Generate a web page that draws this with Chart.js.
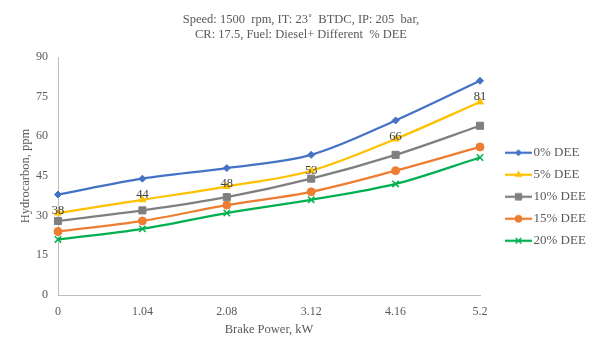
<!DOCTYPE html>
<html><head><meta charset="utf-8">
<script src="https://cdn.jsdelivr.net/npm/chart.js@4.4.1/dist/chart.umd.min.js"></script>
<style>html,body{margin:0;padding:0;background:#fff}#wrap{width:602px;height:352px}</style>
</head><body><div id="wrap"><canvas id="c" width="602" height="352"></canvas></div>
<script>
// ---- data ----
const categories = ['0', '1.04', '2.08', '3.12', '4.16', '5.2'];
const seriesNames = ['0% DEE', '5% DEE', '10% DEE', '15% DEE', '20% DEE'];
const dee0 = [38, 44, 48, 53, 66, 81];
const dee5 = [31, 36, 41, 47, 59, 73];
const dee10 = [28, 32, 37, 44, 53, 64];
const dee15 = [24, 28, 34, 39, 47, 56];
const dee20 = [21, 25, 31, 36, 42, 52];
const yMin = 0, yMax = 90, yStep = 15;
const titleLines = ['Speed: 1500  rpm, IT: 23\u02da  BTDC, IP: 205  bar,', 'CR: 17.5, Fuel: Diesel+ Different  % DEE'];
const xTitle = 'Brake Power, kW';
const yTitle = 'Hydrocarbon, ppm';

// ---- styles ----
const FONT = "'Liberation Serif', 'Times New Roman', serif";
const colors = ['#4472C4', '#FFC000', '#7F7F7F', '#ED7D31', '#00B050'];
const pStyles = ['rectRot', 'triangle', 'rect', 'circle', 'crossRot'];
const pRadius = [3.5, 4, 5, 4, 4.5];
const pBorder = [1, 1, 1, 1, 1.5];
const legendRadius = [3, 3.5, 4.5, 3.5, 4];
const allSeries = [dee0, dee5, dee10, dee15, dee20];

function makeLegendIcon(i) {
  const W = 48, H = 12;
  const c = document.createElement('canvas'); c.width = W; c.height = H;
  const g = c.getContext('2d');
  g.strokeStyle = colors[i]; g.lineWidth = 2.25;
  g.beginPath(); g.moveTo(21, H / 2); g.lineTo(48, H / 2); g.stroke();
  g.fillStyle = colors[i]; g.strokeStyle = colors[i]; g.lineWidth = pBorder[i];
  Chart.helpers.drawPoint(g, {pointStyle: pStyles[i], radius: legendRadius[i], borderWidth: pBorder[i], rotation: 0}, 34.5, H / 2);
  return c;
}

Chart.defaults.font.family = FONT;
Chart.defaults.font.size = 12;
Chart.defaults.color = '#595959';

const datasets = allSeries.map((d, i) => ({
  label: seriesNames[i],
  data: d,
  borderColor: colors[i],
  backgroundColor: colors[i],
  borderWidth: 2.25,
  pointStyle: pStyles[i],
  pointRadius: pRadius[i],
  pointHoverRadius: pRadius[i],
  pointBorderWidth: pBorder[i],
  pointBackgroundColor: colors[i],
  pointBorderColor: colors[i],
  tension: 0.33,
  fill: false
}));

const valueLabels = {
  id: 'valueLabels',
  afterDatasetsDraw(chart) {
    const meta = chart.getDatasetMeta(0);
    const ctx = chart.ctx;
    ctx.save();
    ctx.font = '12.5px ' + FONT;
    ctx.fillStyle = '#404040';
    ctx.textAlign = 'center';
    ctx.textBaseline = 'middle';
    meta.data.forEach((el, j) => {
      ctx.fillText(String(dee0[j]), el.x, el.y + 16);
    });
    ctx.restore();
  }
};

const legendWidthFix = {
  id: 'legendWidthFix',
  beforeLayout(chart) {
    const lg = chart.legend;
    if (lg && !lg._wfix) {
      const orig = lg.fit.bind(lg);
      lg.fit = function () { orig(); this.width = 122; };
      lg._wfix = true;
    }
  }
};

new Chart(document.getElementById('c'), {
  type: 'line',
  data: {labels: categories, datasets},
  plugins: [valueLabels, legendWidthFix],
  options: {
    responsive: false,
    devicePixelRatio: 1,
    animation: false,
    layout: {padding: {left: 0, right: 0, top: 0, bottom: 0}},
    plugins: {
      tooltip: {enabled: false},
      title: {
        display: true,
        text: titleLines,
        color: '#595959',
        font: {family: FONT, size: 12.5, weight: 'normal', lineHeight: 1.2},
        padding: {top: 12.5, bottom: 14.5}
      },
      legend: {
        position: 'right',
        align: 'start',
        fullSize: false,
        title: {display: true, text: '', padding: {top: 65.8, bottom: 0}, font: {size: 12, lineHeight: 1.2}},
        labels: {
          usePointStyle: true,
          pointStyleWidth: 38,
          padding: 9,
          color: '#595959',
          font: {family: FONT, size: 13},
          generateLabels(chart) {
            return chart.data.datasets.map((ds, i) => ({
              text: ds.label,
              pointStyle: makeLegendIcon(i),
              fillStyle: colors[i],
              strokeStyle: colors[i],
              lineWidth: 0,
              hidden: false,
              datasetIndex: i
            }));
          }
        }
      }
    },
    scales: {
      x: {
        type: 'category',
        offset: false,
        grid: {display: false, drawTicks: false},
        border: {display: true, color: '#BFBFBF', width: 1},
        ticks: {color: '#595959', padding: 10, font: {family: FONT, size: 12}, maxRotation: 0},
        title: {display: true, text: xTitle, color: '#595959', font: {family: FONT, size: 12.5, lineHeight: 1.2}, padding: {top: 0, bottom: 15}},
        afterFit(scale) { scale.height = 57; }
      },
      y: {
        min: yMin, max: yMax,
        grid: {display: false, drawTicks: false},
        border: {display: true, color: '#BFBFBF', width: 1},
        ticks: {stepSize: yStep, color: '#595959', padding: 10, font: {family: FONT, size: 12}},
        title: {display: true, text: yTitle, color: '#595959', font: {family: FONT, size: 12.5, lineHeight: 1.2}, padding: {top: 18, bottom: 0}},
        afterFit(scale) { scale.width = 58; }
      }
    }
  }
});
</script>
</body></html>
